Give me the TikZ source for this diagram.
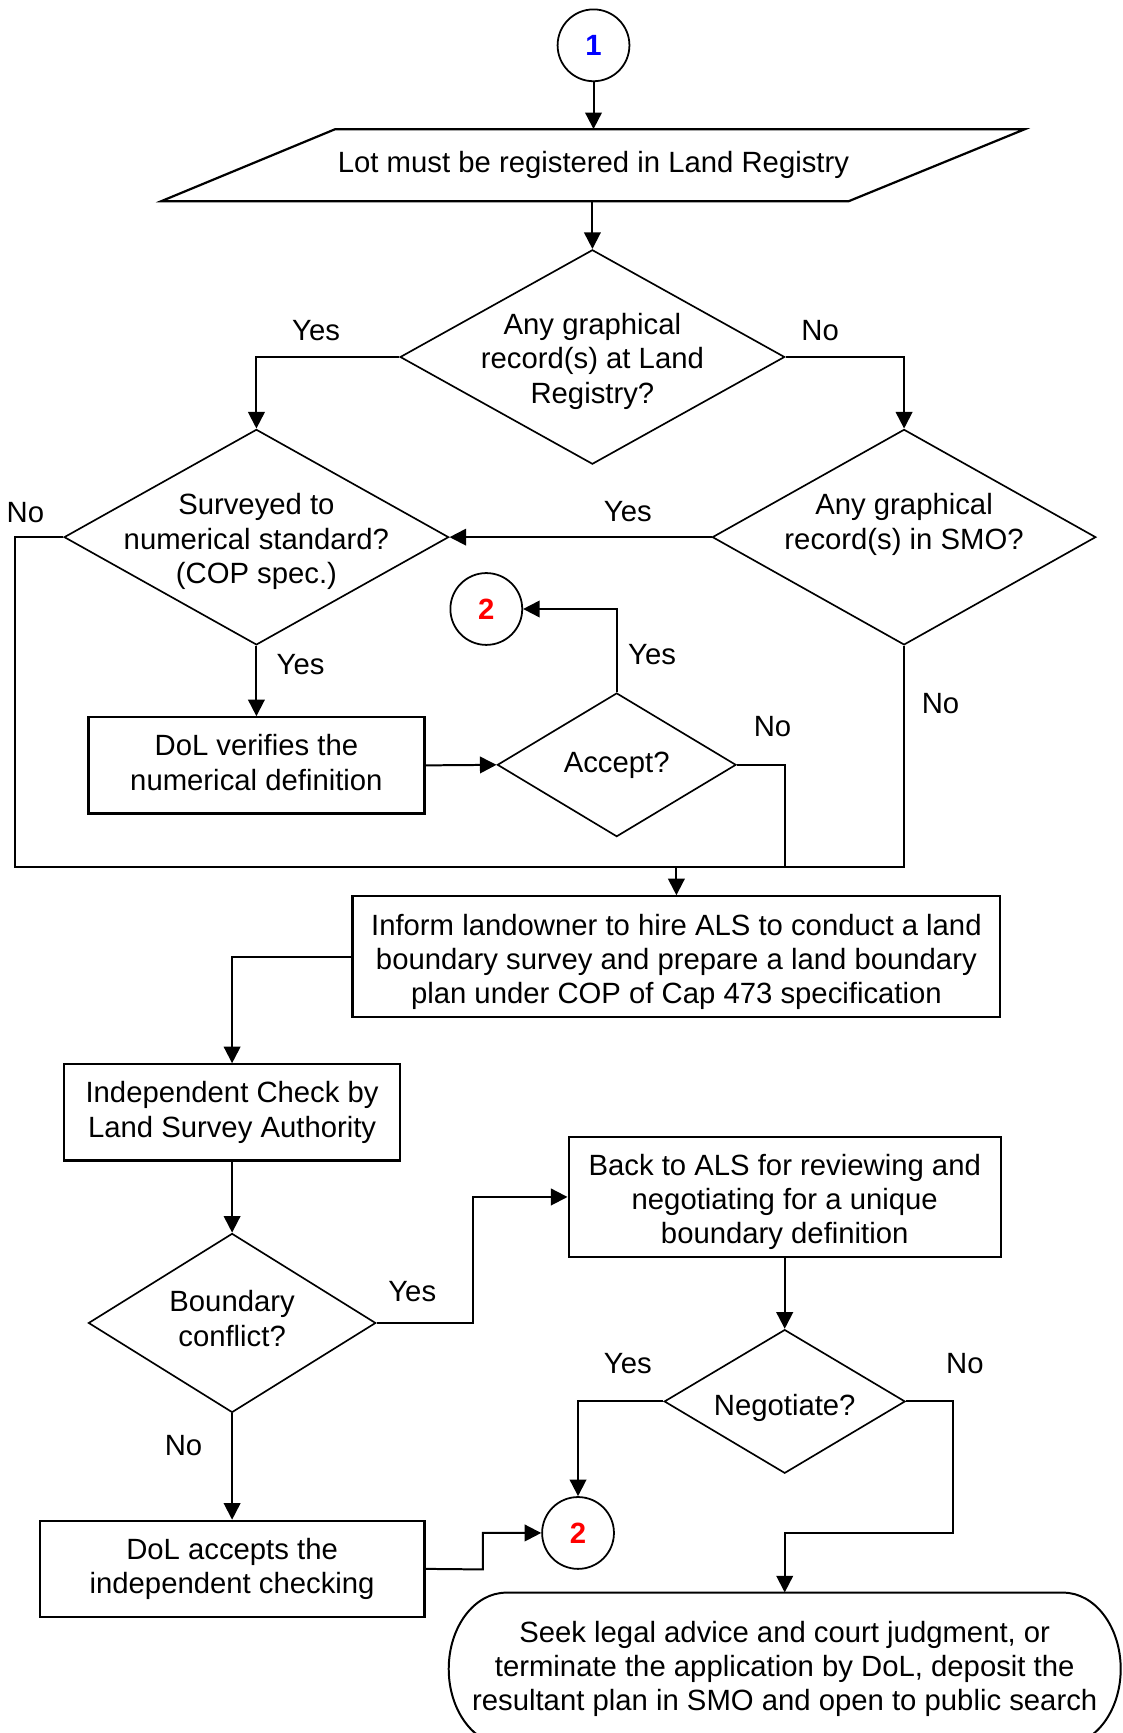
\documentclass[tikz,border=0pt]{standalone}
\usepackage{fontspec}
\setmainfont{Liberation Sans}
\usetikzlibrary{shapes.geometric,arrows.meta}
\begin{document}
\begin{tikzpicture}[x=1pt,y=-1pt,
  every node/.style={font=\fontsize{26.5}{31}\selectfont},
  box/.style={draw, line width=2pt, rectangle, inner sep=0pt},
  dia/.style={draw, line width=1.5pt, diamond, inner sep=0pt},
  conn/.style={draw, circle, line width=1.6pt, minimum size=65pt, inner sep=0pt, font=\fontsize{26.5}{31}\selectfont\bfseries},
  line/.style={line width=1.8pt},
  arr/.style={line width=1.8pt, -{Triangle[length=15pt,width=15pt]}},
  lbl/.style={anchor=base, inner sep=0pt},
  txt/.style={align=center, inner sep=0pt}
]
\useasboundingbox (0,0) rectangle (1016,1568);
\clip (0,0) rectangle (1016,1568);

% connector 1
\node[conn, text=blue] (c1) at (537,41) {1};

% parallelogram
\node[inner sep=0pt, minimum width=624pt, minimum height=65pt] (lot) at (537,149.5) {Lot must be registered in Land Registry};
\draw[line width=2pt] (303,117) -- (927,117) -- (768,182) -- (146,182) -- cycle;

% decisions
\node[dia, minimum width=348pt, minimum height=194pt] (d1) at (536,323) {};
\node[txt] (d1t) at (536,327) {Any graphical\\record(s) at Land\\Registry?};

\node[dia, minimum width=348pt, minimum height=195pt] (d2) at (232,486) {};
\node[txt] (d2t) at (232,490) {Surveyed to\\numerical standard?\\(COP spec.)};

\node[dia, minimum width=347pt, minimum height=195pt] (d3) at (818,486) {};
\node[txt] (d3t) at (818,474.5) {Any graphical\\record(s) in SMO?};

\node[box, minimum width=304pt, minimum height=87pt] (dol1) at (232,692.5) {};
\node[txt] (dol1t) at (232,690) {DoL verifies the\\numerical definition};

\node[dia, minimum width=216pt, minimum height=130pt] (acc) at (558,692) {};
\node[txt] (acct) at (558,692) {Accept?};

\node[conn, text=red] (c2a) at (440,551) {2};

\node[box, minimum width=586pt, minimum height=109pt] (inform) at (612,865.5) {};
\node[txt] (informt) at (612,870.5) {Inform landowner to hire ALS to conduct a land\\boundary survey and prepare a land boundary\\plan under COP of Cap 473 specification};

\node[box, minimum width=304pt, minimum height=87pt] (indep) at (210,1006.5) {};
\node[txt] (indept) at (210,1006.5) {Independent Check by\\Land Survey Authority};

\node[dia, minimum width=260pt, minimum height=162pt] (bc) at (210,1197) {};
\node[txt] (bct) at (210,1193) {Boundary\\conflict?};

\node[box, minimum width=391pt, minimum height=108pt] (back) at (710,1083) {};
\node[txt] (backt) at (710,1087.5) {Back to ALS for reviewing and\\negotiating for a unique\\boundary definition};

\node[dia, minimum width=218pt, minimum height=130pt] (neg) at (710,1268) {};
\node[txt] (negt) at (710,1274) {Negotiate?};

\node[box, minimum width=348pt, minimum height=87pt] (dolacc) at (210,1419.5) {};
\node[txt] (dolacct) at (210,1419.5) {DoL accepts the\\independent checking};

\node[conn, text=red] (c2b) at (523,1387) {2};

% terminal
\node[txt, minimum width=608pt, minimum height=138pt] (seek) at (710,1510) {Seek legal advice and court judgment, or\\terminate the application by DoL, deposit the\\resultant plan in SMO and open to public search};
\draw[line width=1.8pt] (458,1441) -- (962,1441)
  .. controls (990.7,1441) and (1014,1471.9) .. (1014,1510)
  .. controls (1014,1548.1) and (990.7,1579) .. (962,1579)
  -- (458,1579)
  .. controls (429.3,1579) and (406,1548.1) .. (406,1510)
  .. controls (406,1471.9) and (429.3,1441) .. (458,1441) -- cycle;

% helper coordinates
\coordinate (lb) at (14,784);
\coordinate (an) at (710,784);
\coordinate (bj) at (428,1197);
\coordinate (nj) at (862,1387);
\coordinate (dj) at (437,1420);

% connectors
\draw[arr] (c1) -- (c1 |- lot.north);
\draw[arr] (lot.south -| d1.north) -- (d1.north);
\draw[arr] (d1.west) -| (d2.north);
\draw[arr] (d1.east) -| (d3.north);
\draw[arr] (d3.west) -- (d2.east);
\draw[arr] (d2.south) -- (dol1.north);
\draw[arr] (dol1.east) -- (acc.west);
\draw[arr] (acc.north) |- (c2a.east);
\draw[line] (d2.west) -| (lb) -| (d3.south);
\draw[line] (acc.east) -| (an);
\draw[arr] (inform.north |- lb) -- (inform.north);
\draw[arr] (inform.west) -| (indep.north);
\draw[arr] (indep.south) -- (bc.north);
\draw[arr] (bc.east) -- (bj) |- (back.west);
\draw[arr] (back.south) -- (neg.north);
\draw[arr] (neg.west) -| (c2b.north);
\draw[arr] (neg.east) -| (nj) -| (seek.north);
\draw[arr] (bc.south) -- (dolacc.north);
\draw[arr] (dolacc.east) -- (dj) |- (c2b.west);

% labels
\node[lbl] (l1) at (286,308.5) {Yes};
\node[lbl] (l2) at (742,308.5) {No};
\node[lbl] (l3) at (23,472.5) {No};
\node[lbl] (l4) at (568,471.5) {Yes};
\node[lbl] (l5) at (272,610.5) {Yes};
\node[lbl] (l6) at (590,601.5) {Yes};
\node[lbl] (l7) at (699,666.5) {No};
\node[lbl] (l8) at (851,645.5) {No};
\node[lbl] (l9) at (373,1177.5) {Yes};
\node[lbl] (l10) at (568,1242.5) {Yes};
\node[lbl] (l11) at (873,1242.5) {No};
\node[lbl] (l12) at (166,1316.5) {No};
\end{tikzpicture}
\end{document}
